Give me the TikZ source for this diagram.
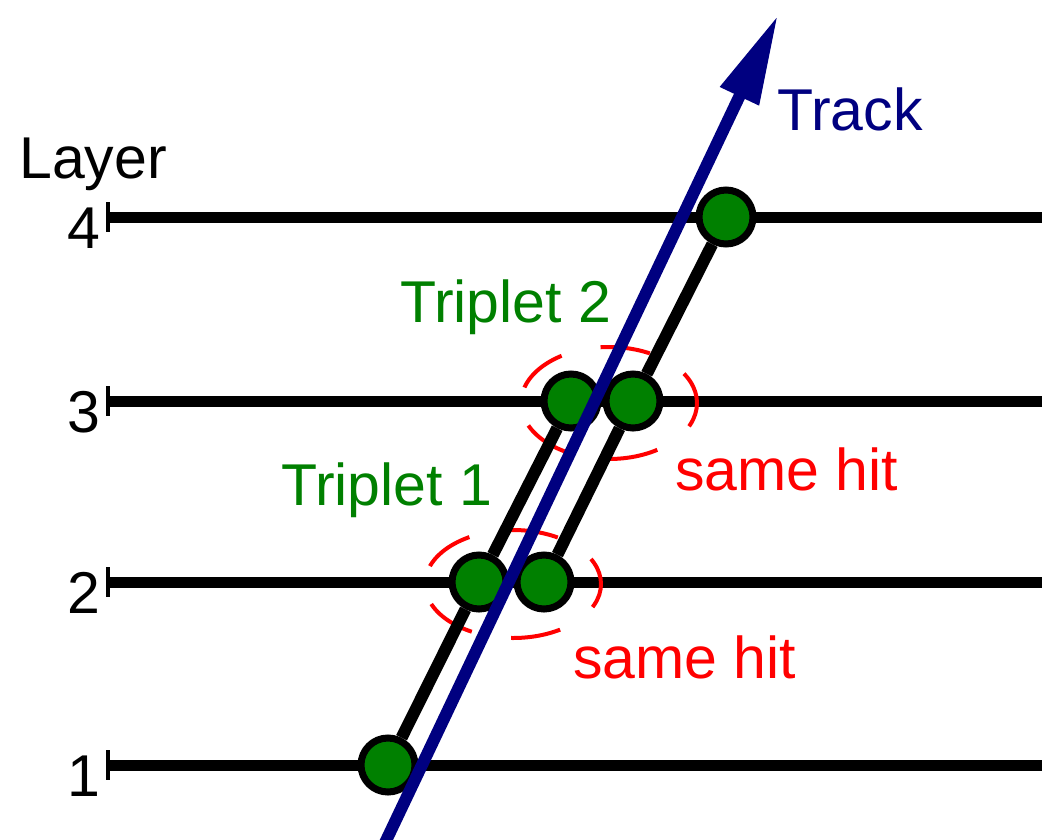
\documentclass[tikz,border=0pt]{standalone}
\usepackage{fontspec}
\setmainfont{Liberation Sans}
\usetikzlibrary{arrows.meta}
\definecolor{hitgreen}{RGB}{0,128,0}
\definecolor{tracknavy}{RGB}{0,0,128}
\definecolor{hitred}{RGB}{255,0,0}

\begin{document}
\begin{tikzpicture}[x=1pt,y=-1pt,
  lbl/.style={inner sep=0pt,font=\fontsize{59}{70}\selectfont},
  hit/.style={circle,draw=black,line width=7pt,fill=hitgreen,minimum size=54pt,inner sep=0pt},
  triplet/.style={draw=black,line width=12pt},
  samehit/.style={draw=hitred,line width=4pt,dash pattern=on 50pt off 40pt,dash phase=25pt},
  track/.style={draw=tracknavy,line width=12pt,-{Triangle[length=90pt,width=40pt]}}]
\useasboundingbox (0,0) rectangle (1042,839);
\clip (0,0) rectangle (1042,839);
% the four layers, with tick and number
\foreach \n/\y in {1/765,2/582,3/401,4/217}{
  \draw[line width=11pt] (108,\y) -- (1042,\y);
  \draw[line width=4pt] (108,\y-15) -- (108,\y+15);
  \node[lbl,anchor=base] (num\n) at (84,\y+31) {\n};}
\node[lbl,anchor=base] (layer) at (93,178) {Layer};
% shared hits
\draw[samehit] (513,584) ellipse [x radius=88,y radius=54];
\draw[samehit] (609,403) ellipse [x radius=88,y radius=56];
% hits
\node[hit] (h1) at (388,765) {};
\node[hit] (h2a) at (479,582) {};
\node[hit] (h2b) at (544,582) {};
\node[hit] (h3a) at (571,401) {};
\node[hit] (h3b) at (633,401) {};
\node[hit] (h4) at (726,217) {};
\draw[triplet] (h1) -- (h2a) -- (h3a);
\draw[triplet] (h2b) -- (h3b) -- (h4);
% labels
\node[lbl,anchor=base west,text=hitgreen] (t2) at (400,322) {Triplet 2};
\node[lbl,anchor=base west,text=hitgreen] (t1) at (281,505) {Triplet 1};
\node[lbl,anchor=base west,text=hitred] (s3) at (675,490) {same hit};
\node[lbl,anchor=base west,text=hitred] (s2) at (573,678) {same hit};
\node[lbl,anchor=base west,text=tracknavy] (tr) at (777,130) {Track};
% the track
\coordinate (tstart) at (384,845);
\coordinate (ttip) at (778,15);
\draw[track] (tstart) -- (ttip);
\end{tikzpicture}
\end{document}
